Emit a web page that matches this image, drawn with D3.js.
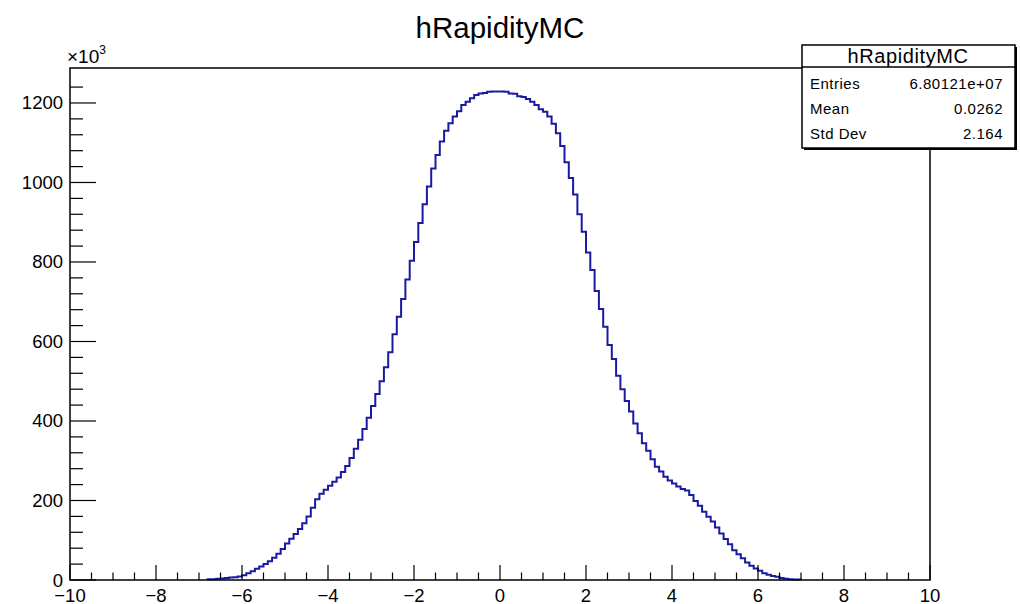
<!DOCTYPE html>
<html>
<head>
<meta charset="utf-8">
<script src="https://cdn.jsdelivr.net/npm/d3@7"></script>
<style>
    body { margin: 0; background: #fff; }
    svg { display: block; font-family: "Liberation Sans", Arial, sans-serif; }
</style>
</head>
<body>
<svg id="chart" width="1020" height="604"></svg>
<script>
// histogram definition: 0.1 wide bins, first filled bin starts at -6.8
const binStart = -6.8;
const binWidth = 0.1;

// bin contents in units of 10^3
const counts = [
    2, 2, 3, 4, 5, 6, 7, 9, 12, 17,
    22, 28, 34, 40, 47, 56, 66, 78, 92, 104,
    116, 128, 143, 160, 182, 203, 217, 227, 237, 247,
    258, 272, 287, 307, 330, 353, 380, 408, 438, 468,
    500, 535, 573, 618, 662, 707, 756, 803, 850, 898,
    945, 990, 1035, 1069, 1103, 1130, 1149, 1166, 1179, 1195,
    1203, 1212, 1220, 1224, 1225, 1228, 1229, 1229, 1229, 1228,
    1224, 1223, 1217, 1215, 1210, 1203, 1195, 1184, 1178, 1166,
    1148, 1124, 1092, 1051, 1011, 970, 920, 876, 824, 780,
    727, 682, 637, 591, 556, 514, 480, 450, 424, 394,
    369, 344, 325, 304, 285, 273, 260, 250, 243, 235,
    229, 225, 214, 199, 187, 172, 159, 147, 132, 117,
    103, 90, 75, 65, 55, 44, 36, 29, 23, 17,
    13, 10, 8, 5, 3, 2, 1, 1
];

const xTicks = [-10, -8, -6, -4, -2, 0, 2, 4, 6, 8, 10];
const yTicks = [0, 200, 400, 600, 800, 1000, 1200];

const statsLabels = ["Entries", "Mean", "Std Dev"];
const statsValues = ["6.80121e+07", "0.0262", "2.164"];

const svg = d3.select("#chart");

const x = d3.scaleLinear().domain([-10, 10]).range([70, 930]);
const y = d3.scaleLinear().domain([0, 1288]).range([580, 68]);

// title
svg.append("text")
    .attr("x", 500)
    .attr("y", 38)
    .attr("text-anchor", "middle")
    .style("font-size", "29.5px")
    .text("hRapidityMC");

// histogram outline
let d = `M${x(binStart)},${y(0)}`;
counts.forEach((c, i) => {
    const lo = binStart + i * binWidth;
    d += `V${y(c)}H${x(lo + binWidth)}`;
});
d += `V${y(0)}`;

svg.append("path")
    .attr("d", d)
    .attr("fill", "none")
    .attr("stroke", "#1a1aa0")
    .attr("stroke-width", 2);

// frame
svg.append("rect")
    .attr("x", 70)
    .attr("y", 68)
    .attr("width", 860)
    .attr("height", 512)
    .attr("fill", "none")
    .attr("stroke", "#000")
    .attr("stroke-width", 1.5);

// x axis ticks
const xMinor = d3.range(-20, 21).map(v => v / 2);
svg.append("g")
    .selectAll("line")
    .data(xMinor)
    .join("line")
    .attr("x1", v => x(v))
    .attr("x2", v => x(v))
    .attr("y1", 580)
    .attr("y2", v => (v % 2 === 0 ? 580 - 15 : 580 - 7.5))
    .attr("stroke", "#000")
    .attr("stroke-width", 1.2);

svg.append("g")
    .selectAll("text")
    .data(xTicks)
    .join("text")
    .attr("x", v => x(v))
    .attr("y", 602)
    .attr("text-anchor", "middle")
    .style("font-size", "18.5px")
    .text(v => (v < 0 ? "\u2212" + Math.abs(v) : v));

// y axis ticks
const yMinor = d3.range(0, 32).map(v => v * 40);
svg.append("g")
    .selectAll("line")
    .data(yMinor)
    .join("line")
    .attr("x1", 70)
    .attr("x2", v => (v % 200 === 0 ? 70 + 26 : 70 + 13))
    .attr("y1", v => y(v))
    .attr("y2", v => y(v))
    .attr("stroke", "#000")
    .attr("stroke-width", 1.2);

svg.append("g")
    .selectAll("text")
    .data(yTicks)
    .join("text")
    .attr("x", 63)
    .attr("y", v => y(v) + 6.5)
    .attr("text-anchor", "end")
    .style("font-size", "18.5px")
    .text(v => v);

// exponent label
const expo = svg.append("text")
    .attr("x", 67)
    .attr("y", 63)
    .style("font-size", "19px");
expo.append("tspan").text("\u00d710");
expo.append("tspan")
    .attr("dy", -9)
    .style("font-size", "12px")
    .text("3");

// stats box
const box = svg.append("g");
box.append("rect")
    .attr("x", 804)
    .attr("y", 47)
    .attr("width", 213)
    .attr("height", 103)
    .attr("fill", "#000");
box.append("rect")
    .attr("x", 802)
    .attr("y", 45)
    .attr("width", 213)
    .attr("height", 103)
    .attr("fill", "#fff")
    .attr("stroke", "#000")
    .attr("stroke-width", 1.5);
box.append("line")
    .attr("x1", 802)
    .attr("x2", 1015)
    .attr("y1", 67)
    .attr("y2", 67)
    .attr("stroke", "#000")
    .attr("stroke-width", 1.5);
box.append("text")
    .attr("x", 908)
    .attr("y", 63)
    .attr("text-anchor", "middle")
    .style("font-size", "20px")
    .style("letter-spacing", "0.6px")
    .text("hRapidityMC");

statsLabels.forEach((label, i) => {
    box.append("text")
        .attr("x", 810)
        .attr("y", 89 + i * 25)
        .style("font-size", "15px")
        .style("letter-spacing", "0.5px")
        .text(label);
    box.append("text")
        .attr("x", 1003)
        .attr("y", 89 + i * 25)
        .attr("text-anchor", "end")
        .style("font-size", "15px")
        .style("letter-spacing", "0.5px")
        .text(statsValues[i]);
});
</script>
</body>
</html>
